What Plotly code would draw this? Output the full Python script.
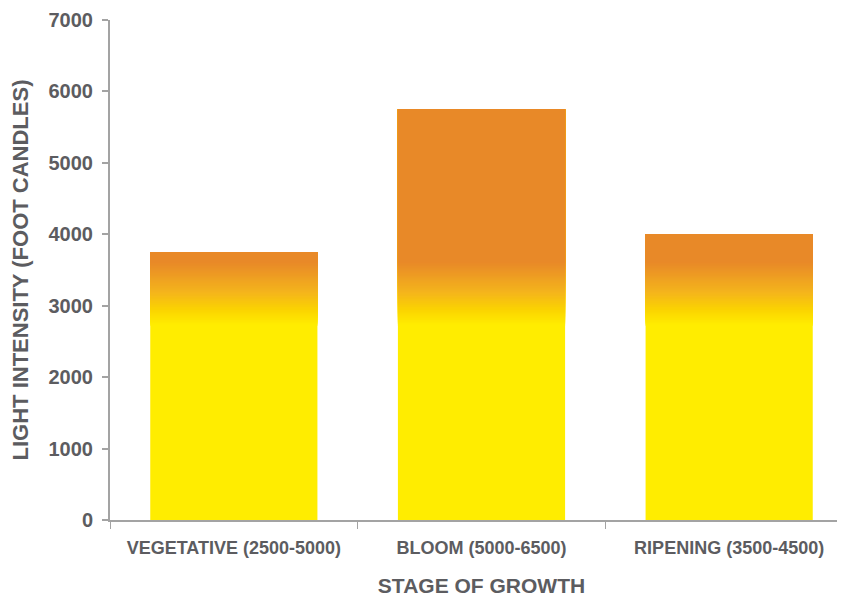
import plotly.graph_objects as go

categories = ["VEGETATIVE (2500-5000)", "BLOOM (5000-6500)", "RIPENING (3500-4500)"]
values = [3750, 5750, 4000]
y_ticks = [0, 1000, 2000, 3000, 4000, 5000, 6000, 7000]

# gradient styling (value-level -> colour), applied as stacked overlays
grad_stops = [(0, (255, 237, 0)), (2720, (255, 237, 0)), (2920, (251, 213, 0)),
              (3180, (244, 180, 28)), (3600, (232, 137, 40))]

def color_at(level):
    for (a, ca), (b, cb) in zip(grad_stops[:-1], grad_stops[1:]):
        if a <= level <= b:
            t = 0 if b == a else (level - a) / (b - a)
            c = [round(ca[i] + (cb[i] - ca[i]) * t) for i in range(3)]
            return f"rgb({c[0]},{c[1]},{c[2]})"
    c = grad_stops[-1][1]
    return f"rgb({c[0]},{c[1]},{c[2]})"

levels = [0] + list(range(2720, 3601, 20))

fig = go.Figure()
for lo in levels:
    ys = [v - lo if v > lo else None for v in values]
    bases = [lo] * len(values)
    fig.add_trace(go.Bar(x=categories, y=ys, base=bases, width=0.675,
                         marker=dict(color=color_at(lo), line=dict(width=0)),
                         hoverinfo="skip", showlegend=False))

grey = "#5c5c60"
axis_grey = "#a3a3a3"
font_family = "Liberation Sans, Arial, sans-serif"

fig.update_layout(
    barmode="overlay",
    width=845, height=598,
    margin=dict(l=102, r=0, t=12, b=86),
    plot_bgcolor="white", paper_bgcolor="white",
    font=dict(family=font_family, color=grey),
    xaxis=dict(
        range=[-0.5, 2.5], showline=True, linecolor=axis_grey, linewidth=2,
        ticks="outside", tickson="boundaries", ticklen=7, tickcolor=axis_grey, tickwidth=1,
        ticklabelstandoff=10,
        tickfont=dict(size=18, family=font_family, color=grey, weight="bold"),
        title=dict(text="STAGE OF GROWTH", font=dict(size=21, family=font_family, color=grey, weight="bold"), standoff=22),
        showgrid=False,
    ),
    yaxis=dict(
        range=[0, 7000], tickvals=y_ticks, showline=True, linecolor=axis_grey, linewidth=2,
        ticks="outside", ticklen=6, tickcolor=axis_grey, tickwidth=2,
        ticklabelstandoff=5,
        tickfont=dict(size=20, family=font_family, color=grey, weight="bold"),
        title=dict(text="LIGHT INTENSITY (FOOT CANDLES)", font=dict(size=22, family=font_family, color=grey, weight="bold"), standoff=16),
        showgrid=False, zeroline=False,
    ),
)

fig.write_html("out.html")
